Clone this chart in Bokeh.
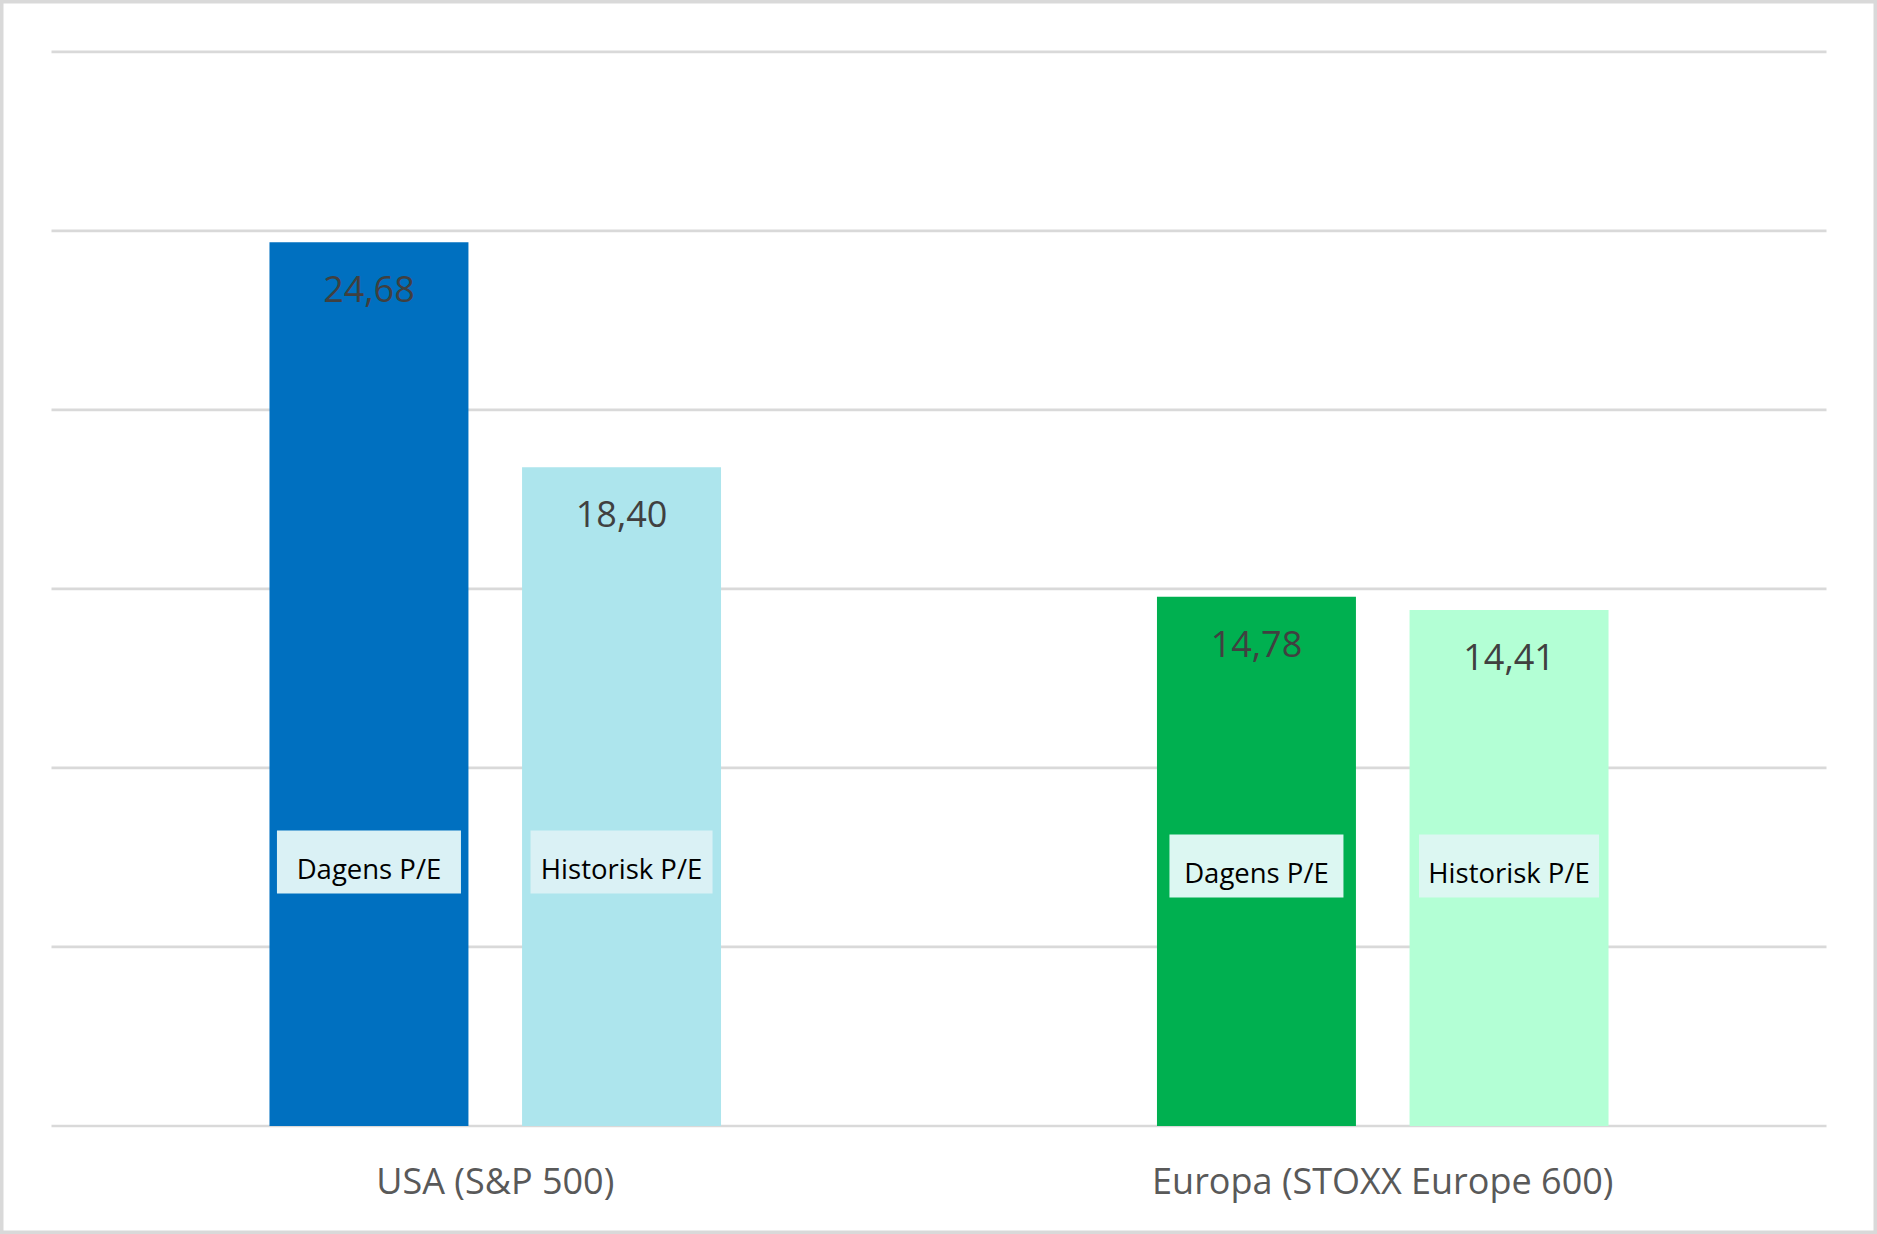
from bokeh.plotting import figure
from bokeh.models import FactorRange, Range1d, ColumnDataSource
from bokeh.transform import dodge
from bokeh.core.properties import value
from bokeh.embed import file_html
from bokeh.resources import INLINE

# ---- data ----
categories = ["USA (S&P 500)", "Europa (STOXX Europe 600)"]
series = ["Dagens P/E", "Historisk P/E"]
dagens = [24.68, 14.78]
historisk = [18.40, 14.41]
y_ticks = [0, 5, 10, 15, 20, 25, 30]

# ---- styles / positions ----
dagens_colors = ["#0070C0", "#00B050"]
historisk_colors = ["#ADE5ED", "#B3FFD5"]
box_colors = ["#DAF1F5", "#DCF7F2"]
box_y = [7.37, 7.26]
box_w_dagens = [184, 174]
box_w_historisk = [182, 180]

def fmt(v):
    return f"{v:.2f}".replace(".", ",")

src = ColumnDataSource(dict(
    cat=categories,
    zero=[0] * len(categories),
    dagens=dagens,
    historisk=historisk,
    dlab=[fmt(v) for v in dagens],
    hlab=[fmt(v) for v in historisk],
    dcol=dagens_colors,
    hcol=historisk_colors,
    boxc=box_colors,
    boxy=box_y,
    bwd=box_w_dagens,
    bwh=box_w_historisk,
))

grid_src = ColumnDataSource(dict(
    y=y_ticks,
    first=[categories[0]] * len(y_ticks),
    last=[categories[-1]] * len(y_ticks),
))

PAD = 51 / 887.5
p = figure(
    width=1877, height=1234,
    x_range=FactorRange(*categories, range_padding=PAD, range_padding_units="absolute"),
    y_range=Range1d(-3.030, 31.433),
    output_backend="svg", toolbar_location=None,
    min_border=0,
)
p.outline_line_color = "#D9D9D9"
p.outline_line_width = 6
p.background_fill_color = "white"
p.border_fill_color = "white"
p.xaxis.visible = False
p.yaxis.visible = False
p.xgrid.visible = False
p.ygrid.visible = False

OFF = 0.1423
BW = 0.2242
FONT = "Open Sans"

# horizontal gridlines across the category span
p.segment(x0=dodge("first", -0.5, range=p.x_range), x1=dodge("last", 0.5, range=p.x_range),
          y0="y", y1="y", line_color="#D9D9D9", line_width=2.7, source=grid_src)

xd = dodge("cat", -OFF, range=p.x_range)
xh = dodge("cat", OFF, range=p.x_range)

p.vbar(x=xd, top="dagens", bottom=0, width=BW, fill_color="dcol", line_color=None, source=src)
p.vbar(x=xh, top="historisk", bottom=0, width=BW, fill_color="hcol", line_color=None, source=src)

# value labels inside bars, near top
for x, col, ycol in ((xd, "dlab", "dagens"), (xh, "hlab", "historisk")):
    p.text(x=x, y=ycol, text=col, source=src, y_offset=47,
           text_align="center", text_baseline="middle",
           text_font=value(FONT), text_font_size="36px", text_color="#404040")

# series name boxes
p.rect(x=xd, y="boxy", width="bwd", height=63, width_units="screen", height_units="screen",
       fill_color="boxc", line_color=None, source=src)
p.rect(x=xh, y="boxy", width="bwh", height=63, width_units="screen", height_units="screen",
       fill_color="boxc", line_color=None, source=src)
p.text(x=xd, y="boxy", text=value(series[0]), source=src, y_offset=6,
       text_align="center", text_baseline="middle",
       text_font=value(FONT), text_font_size="27.5px", text_color="#000000")
p.text(x=xh, y="boxy", text=value(series[1]), source=src, y_offset=6,
       text_align="center", text_baseline="middle",
       text_font=value(FONT), text_font_size="27.5px", text_color="#000000")

# category labels below the baseline
p.text(x="cat", y="zero", text="cat", source=src, y_offset=54,
       text_align="center", text_baseline="middle",
       text_font=value(FONT), text_font_size="36px", text_color="#595959")

open("out.html", "w").write(file_html(p, INLINE))
